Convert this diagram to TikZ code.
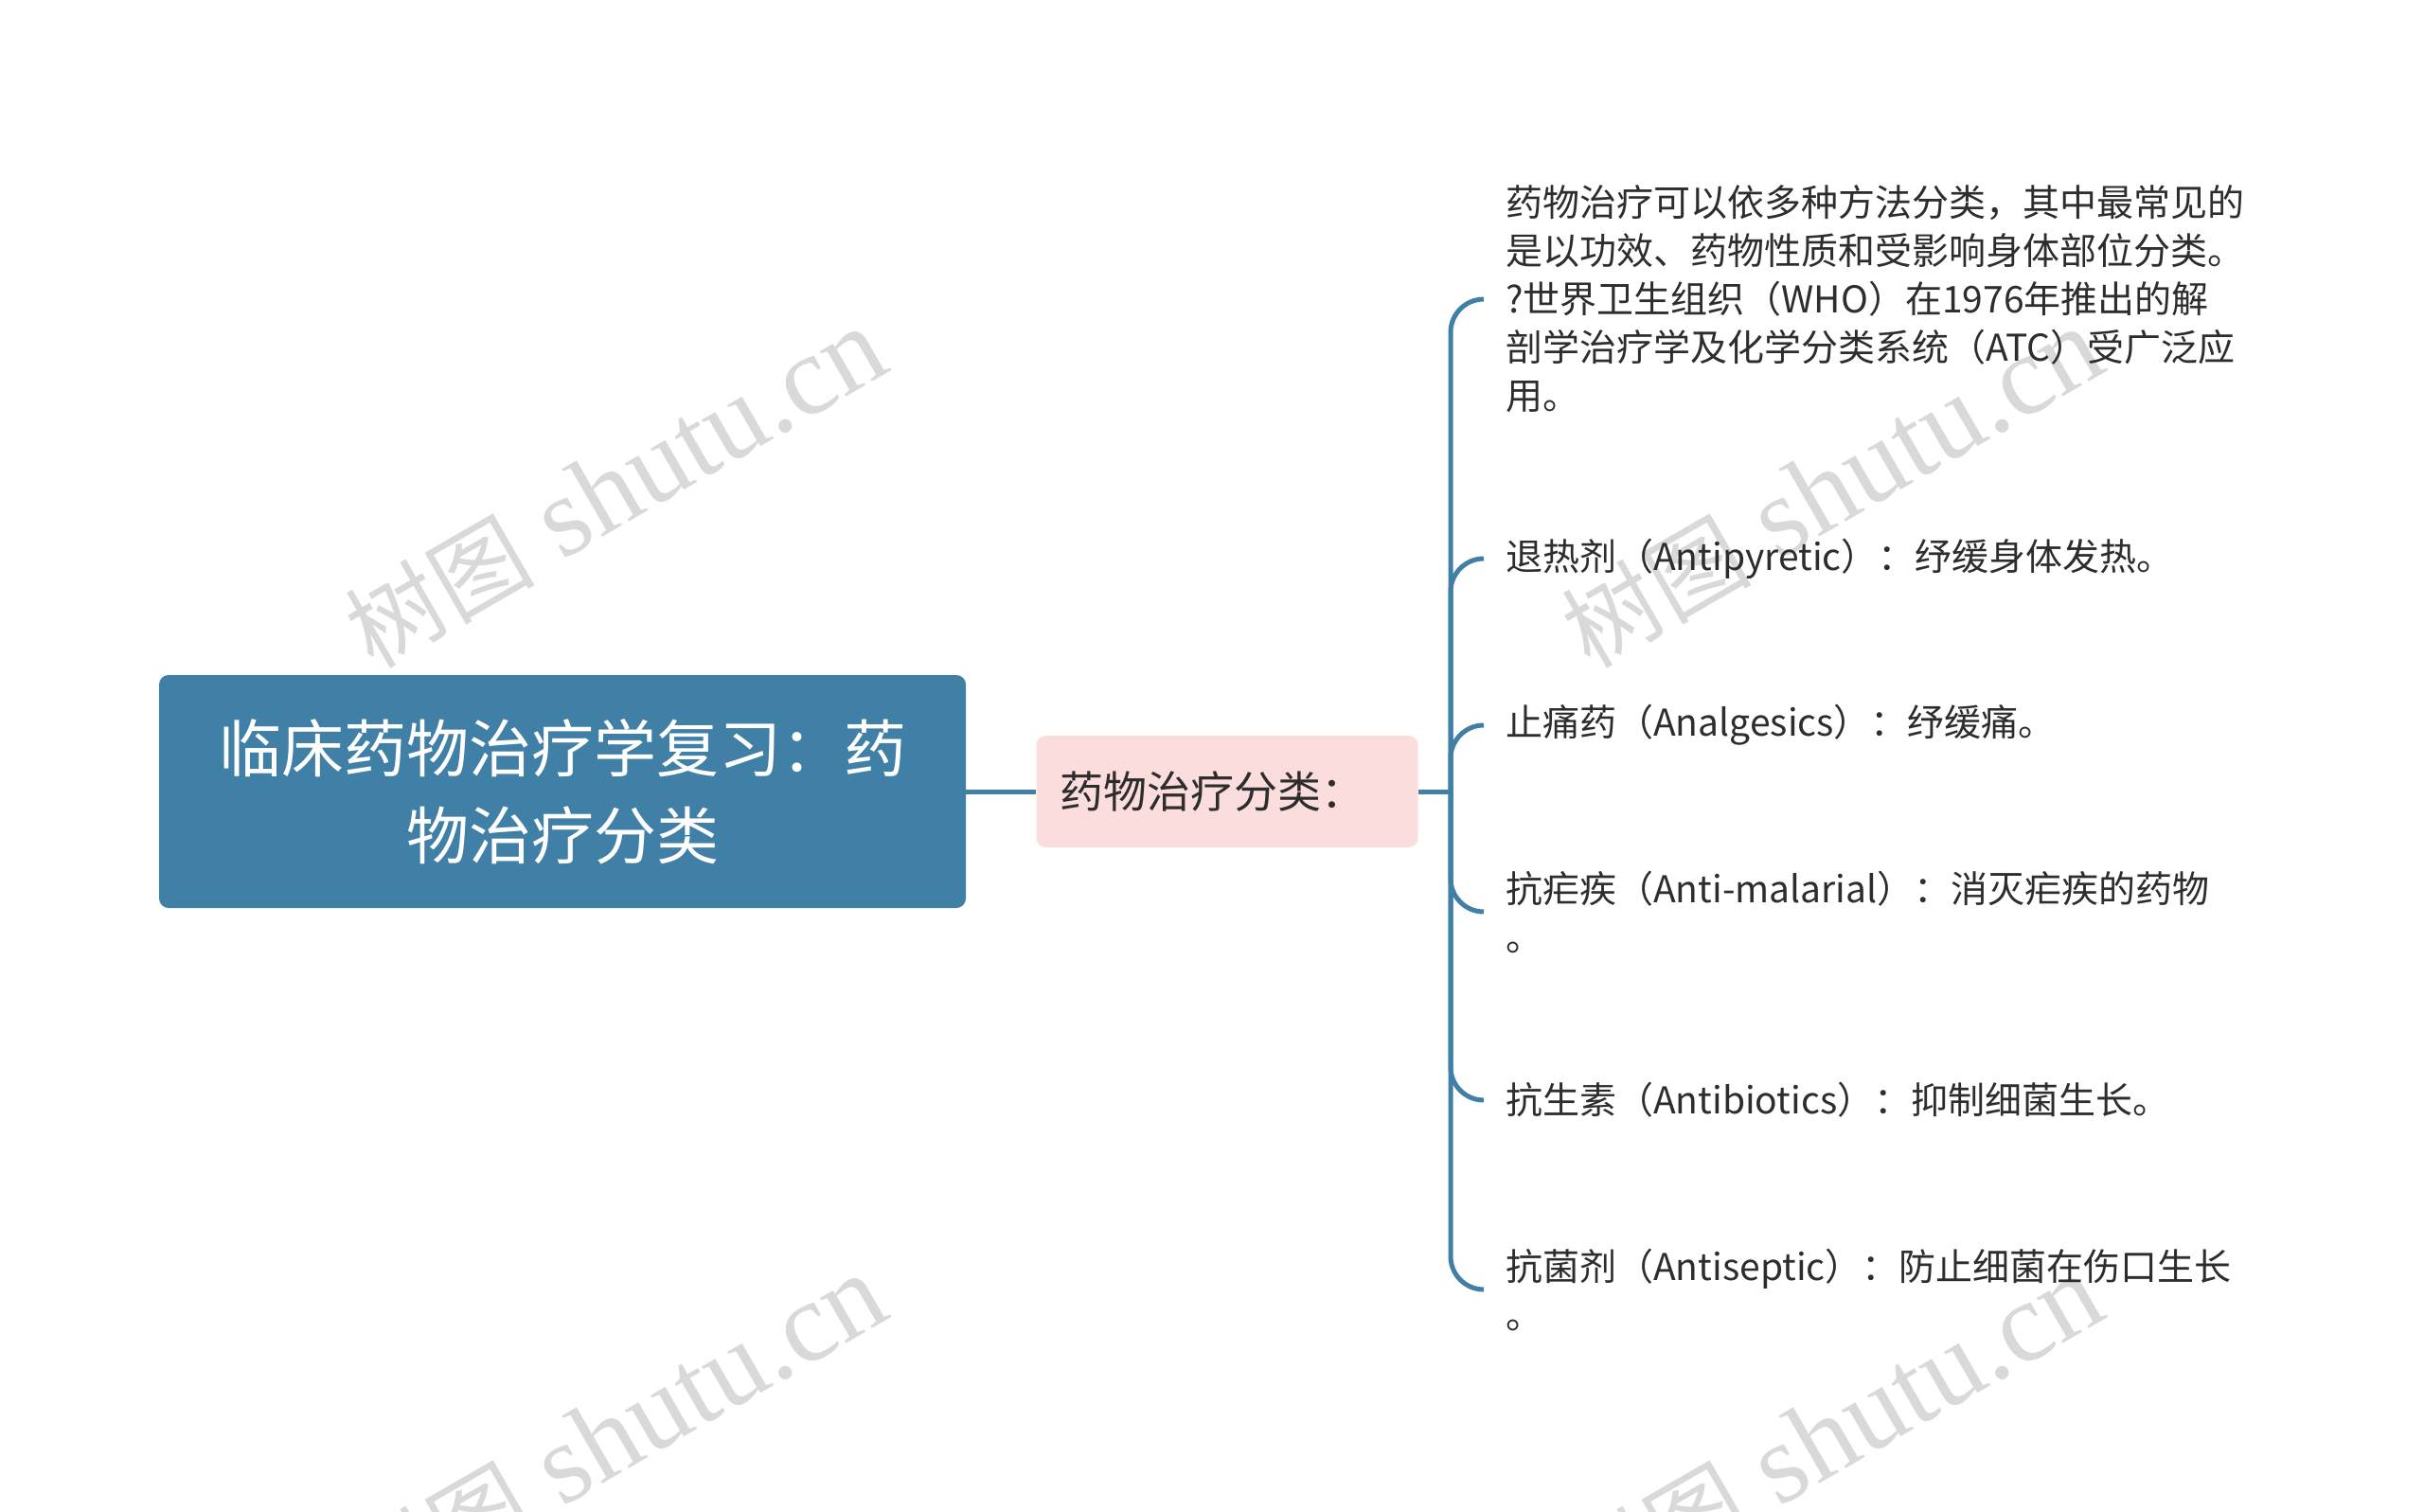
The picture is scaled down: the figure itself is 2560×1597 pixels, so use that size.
\documentclass[tikz,border=0pt]{standalone}
\usepackage{fontspec}
\setmainfont{Noto Sans CJK SC}
\newfontfamily\wmserif{Liberation Serif}
\newfontfamily\wmcjk{Noto Sans CJK SC}
\definecolor{rootblue}{RGB}{64,127,166}
\definecolor{pinkfill}{RGB}{251,221,221}
\definecolor{txt}{RGB}{45,45,45}
\definecolor{wm}{RGB}{217,217,217}
\begin{document}
\begin{tikzpicture}[x=1pt,y=-1pt,
 rootbox/.style={fill=rootblue, rounded corners=10pt, minimum width=852pt, minimum height=246pt, text=white, align=center, font=\fontsize{66}{92}\selectfont, inner sep=0pt},
 subbox/.style={fill=pinkfill, rounded corners=10pt, minimum width=403pt, minimum height=118pt, text width=353pt, inner xsep=25pt, inner ysep=0pt, align=left, text=txt, font=\fontsize{46}{60}\selectfont},
 leaf/.style={anchor=west, inner xsep=23pt, inner ysep=0pt, align=left, text=txt, font=\fontsize{39}{51}\selectfont},
 conn/.style={draw=rootblue, line width=5pt},
 hook/.style={conn, rounded corners=35pt},
 watermark/.style={text=wm, rotate=30, inner sep=0pt, font=\wmserif\fontsize{120}{120}\selectfont}
]
\useasboundingbox (0,0) rectangle (2560,1597);
\begin{scope}
\clip (0,0) rectangle (2560,1597);
\foreach \wx/\wy [count=\i] in {650/516, 1935/516, 650/1516, 1935/1516}{
  \node[watermark] (wm\i) at (\wx,\wy) {{\wmcjk\fontsize{100}{100}\selectfont 树图}\hspace{30pt}shutu.cn};
}
\end{scope}

\node[rootbox] (root) at (594,836) {临床药物治疗学复习：药\\物治疗分类};
\node[subbox] (sub) at (1296,836) {药物治疗分类：};
\coordinate (j) at (1532,836);

\node[leaf] (l1) at (1567,316) {药物治疗可以依多种方法分类，其中最常见的\\是以功效、药物性质和受影响身体部位分类。\\?世界卫生组织（WHO）在1976年推出的解\\剖学治疗学及化学分类系统（ATC）受广泛应\\用。};
\node[leaf] (l2) at (1567,590) {退热剂（Antipyretic）：纾缓身体发热。};
\node[leaf] (l3) at (1567,766) {止痛药（Analgesics）：纾缓痛。};
\node[leaf] (l4) at (1567,963) {抗疟疾（Anti-malarial）：消灭疟疾的药物\\。};
\node[leaf] (l5) at (1567,1162) {抗生素（Antibiotics）：抑制细菌生长。};
\node[leaf] (l6) at (1567,1362) {抗菌剂（Antiseptic）：防止细菌在伤口生长\\。};

\draw[conn] (root.east) -- (sub.west);
\draw[conn] (sub.east) -- (j);
\foreach \k in {1,...,6}{
  \draw[hook] (j) |- (l\k.west);
}
\end{tikzpicture}
\end{document}
